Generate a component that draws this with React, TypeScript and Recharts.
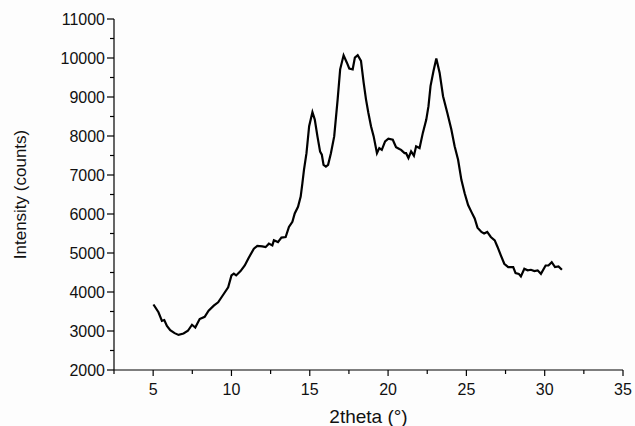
import React from "react";
import { Label, Line, LineChart, XAxis, YAxis } from "recharts";

// 2theta (deg) and intensity (counts)
const twoTheta = [
  5.02, 5.34, 5.56, 5.71, 5.88, 6.09, 6.37, 6.62, 6.94, 7.22, 7.48, 7.69, 7.97,
  8.29, 8.54, 8.87, 9.15, 9.44, 9.79, 10.0, 10.15, 10.3, 10.58, 10.85, 11.07,
  11.43, 11.65, 11.97, 12.18, 12.39, 12.61, 12.71, 12.97, 13.19, 13.46, 13.67,
  13.89, 14.04, 14.25, 14.42, 14.53, 14.63, 14.79, 14.96, 15.17, 15.32, 15.49,
  15.66, 15.77, 15.88, 16.03, 16.17, 16.35, 16.56, 16.78, 16.94, 17.16, 17.37,
  17.52, 17.74, 17.88, 18.06, 18.27, 18.44, 18.59, 18.74, 18.91, 19.08, 19.29,
  19.44, 19.6, 19.81, 20.02, 20.3, 20.51, 20.72, 20.83, 21.05, 21.15, 21.3,
  21.47, 21.65, 21.79, 22.01, 22.22, 22.44, 22.58, 22.71, 22.9, 23.08, 23.29,
  23.51, 23.78, 24.04, 24.25, 24.47, 24.68, 24.89, 25.11, 25.32, 25.53, 25.71,
  25.96, 26.13, 26.33, 26.56, 26.81, 26.99, 27.2, 27.42, 27.67, 27.99, 28.14,
  28.35, 28.48, 28.7, 28.91, 29.12, 29.34, 29.55, 29.76, 30.06, 30.24, 30.45,
  30.66, 30.88, 31.1,
];
const intensity = [
  3680, 3480, 3260, 3280, 3130, 3020, 2945, 2900, 2935, 3005, 3160, 3090, 3305,
  3365, 3520, 3650, 3735, 3910, 4120, 4425, 4470, 4425, 4535, 4680, 4855, 5110,
  5180, 5170, 5150, 5240, 5195, 5325, 5280, 5395, 5410, 5670, 5800, 6015, 6185,
  6445, 6790, 7130, 7560, 8250, 8610, 8420, 7990, 7600, 7520, 7260, 7215, 7260,
  7560, 7990, 8940, 9710, 10070, 9880, 9730, 9710, 10010, 10070, 9925, 9370,
  8940, 8595, 8250, 7990, 7560, 7690, 7645, 7860, 7930, 7905, 7715, 7665, 7645,
  7560, 7560, 7435, 7605, 7495, 7735, 7690, 8080, 8420, 8765, 9280, 9665, 9985,
  9625, 9020, 8595, 8165, 7735, 7390, 6875, 6530, 6230, 6055, 5885, 5650, 5540,
  5500, 5540, 5410, 5325, 5155, 4940, 4725, 4640, 4640, 4485, 4465, 4400, 4595,
  4555, 4570, 4535, 4555, 4465, 4680, 4680, 4765, 4640, 4655, 4570,
];

const xTicks = [2.5, 5, 7.5, 10, 12.5, 15, 17.5, 20, 22.5, 25, 27.5, 30, 32.5, 35];
const yTicks = [
  2000, 2500, 3000, 3500, 4000, 4500, 5000, 5500, 6000, 6500, 7000, 7500, 8000,
  8500, 9000, 9500, 10000, 10500, 11000,
];

const rows = twoTheta.map((x, i) => ({ x, y: intensity[i] }));

const FONT = "'Liberation Sans', Arial, sans-serif";

function XTick({ x, y, payload }: any) {
  const major = payload.value % 5 === 0;
  return (
    <g>
      <line x1={x} x2={x} y1={y} y2={y + (major ? 6 : 4)} stroke="#000" strokeWidth={1.2} />
      {major && (
        <text x={x} y={y + 25} textAnchor="middle" fontSize={16} fontFamily={FONT} fill="#111">
          {payload.value}
        </text>
      )}
    </g>
  );
}

function YTick({ x, y, payload }: any) {
  const major = payload.value % 1000 === 0;
  return (
    <g>
      <line x1={x} x2={x - (major ? 7 : 4)} y1={y} y2={y} stroke="#000" strokeWidth={1.2} />
      {major && (
        <text x={x - 9} y={y} dy="0.35em" textAnchor="end" fontSize={16} fontFamily={FONT} fill="#111">
          {payload.value}
        </text>
      )}
    </g>
  );
}

export default function App() {
  return (
    <div style={{ position: "absolute", left: 0, top: 0, width: 635, height: 426, background: "#fdfdfd" }}>
      <LineChart width={635} height={426} data={rows} margin={{ top: 19, right: 12, left: 0, bottom: 0 }}>
        <XAxis
          dataKey="x"
          type="number"
          domain={[2.5, 35]}
          ticks={xTicks}
          interval={0}
          height={56}
          tickSize={0}
          tickMargin={0}
          tickLine={false}
          axisLine={{ stroke: "#000", strokeWidth: 1.2 }}
          tick={<XTick />}
        >
          <Label
            value="2theta (°)"
            position="insideBottom"
            offset={3}
            style={{ fontSize: 19, fontFamily: FONT, fill: "#111" }}
          />
        </XAxis>
        <YAxis
          type="number"
          domain={[2000, 11000]}
          ticks={yTicks}
          interval={0}
          width={114}
          tickSize={0}
          tickMargin={0}
          tickLine={false}
          axisLine={{ stroke: "#000", strokeWidth: 1.2 }}
          tick={<YTick />}
        >
          <Label
            value="Intensity (counts)"
            angle={-90}
            position="insideLeft"
            offset={20}
            style={{ fontSize: 17, fontFamily: FONT, fill: "#111", textAnchor: "middle" }}
          />
        </YAxis>
        <Line
          type="linear"
          dataKey="y"
          stroke="#000"
          strokeWidth={2.2}
          dot={false}
          isAnimationActive={false}
        />
      </LineChart>
    </div>
  );
}
